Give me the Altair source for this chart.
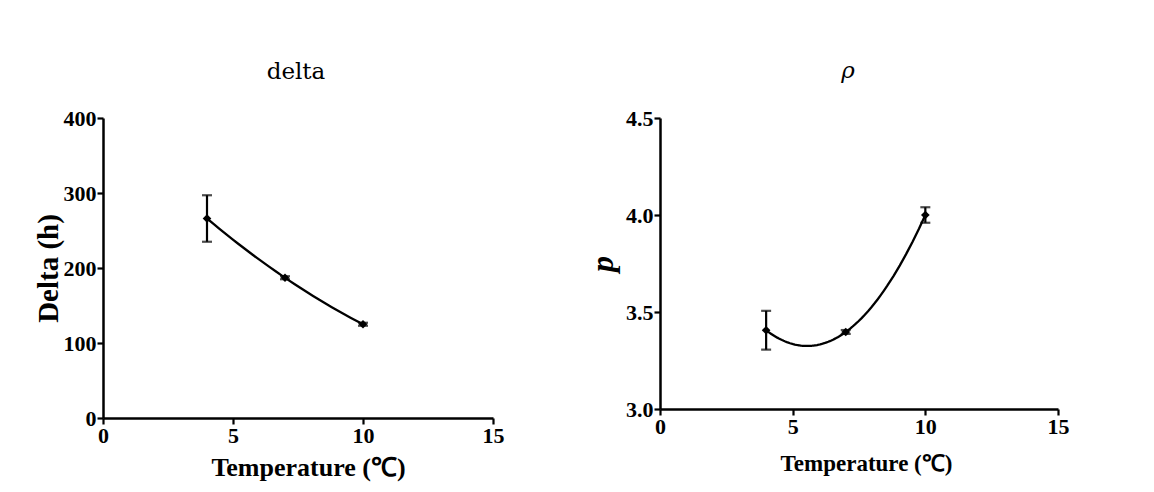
import altair as alt
import pandas as pd

temperature = [4, 7, 10]
delta_mean = [266, 187, 125]
delta_err = [31, 2, 2]
rho_mean = [3.406, 3.397, 4.0]
rho_err = [0.10, 0.01, 0.04]
x_ticks = [0, 5, 10, 15]
delta_ticks = [0, 100, 200, 300, 400]
rho_ticks = [3.0, 3.5, 4.0, 4.5]

SERIF = "Liberation Serif"


def panel(mean, err, ydomain, yticks, ytitle, ttl, fmt, w, h, ystyle, ysize, ypad,
          xsize, xpad, xtx, toff, tdx, tdy, tstyle):
    df = pd.DataFrame({"t": temperature, "m": mean, "e": err})
    base = alt.Chart(df).transform_calculate(lo="datum.m - datum.e", hi="datum.m + datum.e")
    x = alt.X("t:Q", scale=alt.Scale(domain=[0, 15], nice=False),
              axis=alt.Axis(values=x_ticks, title="Temperature (℃)", format="d",
                            titleFontSize=xsize, titlePadding=xpad, titleX=xtx,
                            titleAlign="center"))
    yax = alt.Axis(values=yticks, title=ytitle, format=fmt, titleFontStyle=ystyle,
                   titleFontSize=ysize, titlePadding=ypad)
    yscale = alt.Scale(domain=ydomain, nice=False, zero=False)
    y = alt.Y("m:Q", scale=yscale, axis=yax)
    curve = base.transform_regression("t", "m", method="poly", order=2).mark_line(
        color="black", strokeWidth=2.3).encode(x=x, y=y)
    rule = base.mark_rule(color="black", strokeWidth=2.2).encode(
        x=x, y=alt.Y("lo:Q", scale=yscale, axis=yax), y2="hi:Q")
    cap_lo = base.mark_tick(color="black", thickness=2.2, size=10, orient="horizontal").encode(
        x=x, y=alt.Y("lo:Q", scale=yscale, axis=yax))
    cap_hi = base.mark_tick(color="black", thickness=2.2, size=10, orient="horizontal").encode(
        x=x, y=alt.Y("hi:Q", scale=yscale, axis=yax))
    pts = base.mark_point(shape="diamond", filled=True, color="black", size=75, opacity=1).encode(
        x=x, y=y)
    return alt.layer(curve, rule, cap_lo, cap_hi, pts).properties(
        width=w, height=h,
        title=alt.TitleParams(ttl, offset=toff, dx=tdx, dy=tdy, fontStyle=tstyle))


left = panel(delta_mean, delta_err, [0, 400], delta_ticks, "Delta (h)", "delta", "d",
             390, 300, "normal", 29, 0, 26, 8, 205, 23, -2, 0, "normal")
right = panel(rho_mean, rho_err, [3.0, 4.5], rho_ticks, "p", "ρ", ".1f",
              398, 291, "italic", 32, 6, 23, 15, 206, 19, -11, -5, "italic")

chart = alt.hconcat(left, right, spacing=167, bounds="flush").properties(
    padding={"left": 26, "top": 52, "right": 5, "bottom": 5}
).configure_view(stroke=None).configure_axis(
    grid=False, domainColor="black", domainWidth=2.5, tickColor="black", tickWidth=2.2,
    tickSize=6, labelFont=SERIF, labelFontWeight="bold", labelFontSize=22, labelColor="black",
    labelPadding=1, titleFont=SERIF, titleFontWeight="bold", titleFontSize=26,
    titleColor="black", labelFlush=False
).configure_title(
    font="DejaVu Serif", fontSize=23, fontWeight="normal", color="black", anchor="middle"
)

chart.save("out.html", embed_options={"renderer": "svg", "actions": False})
